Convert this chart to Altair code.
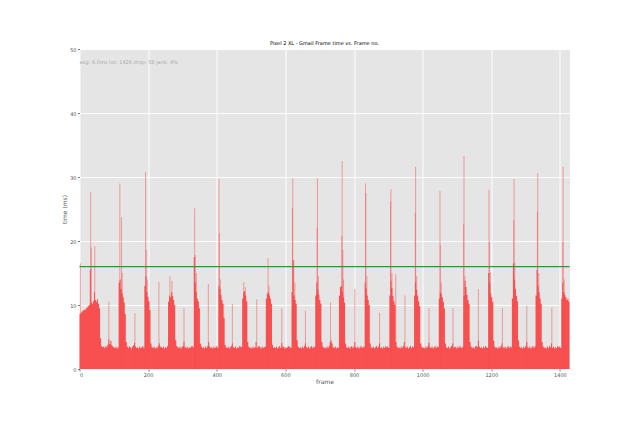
import altair as alt
import pandas as pd

FONT = "DejaVu Sans"
RED = "#F85050"
GREEN = "#3d8f3d"

TITLE = "Pixel 2 XL - Gmail Frame time vs. Frame no."
NOTE = ["avg: 6.0ms tot: 1426 drop: 58 jank: 4%"]
NOTE_FRAME = [0]
NOTE_MS = [48]

BIN = 3  # frames per body value
FRAME_MAX = 1428

# frame time (ms) of the dense body, one value per 3 frames
body_ms = [
    8.6, 8.8, 9.0, 9.1, 9.3, 9.2, 9.5, 9.6, 9.8, 10.0,
    15.5, 10.4, 10.2, 10.6, 12.0, 10.8, 10.5, 10.9, 10.2, 9.5,
    4.8, 3.6, 3.4, 3.5, 3.3, 3.6, 3.4, 3.8, 4.6, 3.9,
    4.4, 3.7, 3.5, 3.4, 3.3, 3.5, 3.2, 3.4, 13.5, 14.0,
    12.5, 11.8, 11.2, 10.4, 8.6, 4.2, 3.5, 3.3, 3.6, 3.4,
    3.2, 3.5, 3.7, 4.1, 3.5, 3.3, 3.4, 3.2, 3.5, 3.3,
    3.4, 3.6, 3.3, 13.0, 14.5, 12.0, 11.3, 10.6, 9.2, 4.0,
    3.4, 3.3, 3.5, 3.2, 3.4, 3.3, 3.6, 4.0, 3.5, 3.4,
    3.3, 3.5, 3.2, 3.4, 3.3, 3.6, 10.5, 11.5, 11.2, 12.0,
    11.4, 10.8, 10.0, 4.5, 3.6, 3.4, 3.3, 3.5, 3.2, 3.4,
    3.6, 4.3, 3.4, 3.3, 3.5, 3.2, 3.4, 3.3, 3.5, 3.6,
    3.4, 17.5, 13.5, 12.0, 11.0, 10.6, 9.5, 4.0, 3.5, 3.3,
    3.4, 3.2, 3.5, 3.3, 3.6, 4.2, 3.5, 3.3, 3.4, 3.2,
    3.5, 3.3, 3.4, 3.6, 3.3, 13.0, 12.5, 11.6, 10.8, 10.2,
    8.0, 3.8, 3.4, 3.3, 3.5, 3.2, 3.4, 3.6, 4.0, 3.4,
    3.3, 3.5, 3.2, 3.4, 3.3, 3.6, 3.5, 3.4, 11.0, 12.0,
    12.2, 11.5, 10.6, 4.2, 3.5, 3.3, 3.4, 3.2, 3.5, 3.3,
    3.4, 4.2, 3.3, 3.5, 3.6, 3.4, 3.2, 3.5, 3.3, 3.4,
    3.5, 11.0, 11.8, 12.0, 11.5, 11.0, 10.2, 3.8, 3.3, 3.4,
    3.3, 3.5, 3.2, 3.4, 3.6, 3.3, 4.1, 3.4, 3.5, 3.2,
    3.4, 3.3, 3.5, 3.6, 3.4, 3.3, 12.0, 17.0, 11.5, 10.8,
    10.2, 4.5, 3.5, 3.3, 3.4, 3.2, 3.5, 3.3, 3.6, 4.0,
    3.4, 3.3, 3.5, 3.2, 3.4, 3.6, 3.3, 3.5, 3.4, 11.5,
    13.5, 12.4, 11.6, 10.8, 10.2, 4.2, 3.5, 3.3, 3.4, 3.2,
    3.5, 3.3, 3.6, 4.2, 4.5, 4.0, 3.4, 3.3, 3.5, 3.2,
    3.4, 3.3, 11.5, 12.8, 13.0, 12.0, 11.2, 10.4, 4.0, 3.4,
    3.3, 3.5, 3.2, 3.4, 3.6, 3.3, 3.5, 4.2, 3.4, 3.3,
    3.5, 3.2, 3.4, 3.6, 3.3, 3.5, 3.4, 13.5, 12.6, 11.5,
    10.8, 10.0, 4.0, 3.4, 3.3, 3.5, 3.2, 3.4, 3.6, 3.3,
    3.5, 4.0, 3.3, 3.4, 3.2, 3.5, 3.3, 3.6, 3.4, 3.5,
    3.3, 11.5, 13.8, 12.6, 11.4, 10.6, 10.0, 4.2, 3.5, 3.3,
    3.4, 3.2, 3.5, 3.3, 3.6, 4.2, 3.4, 3.3, 3.5, 3.2,
    3.4, 3.6, 3.3, 3.5, 3.4, 11.5, 13.5, 12.4, 11.5, 10.6,
    9.8, 4.0, 3.5, 3.3, 3.4, 3.2, 3.5, 3.3, 3.6, 4.1,
    3.4, 3.3, 3.5, 3.2, 3.4, 3.6, 3.3, 3.5, 3.4, 11.0,
    12.0, 11.7, 11.2, 10.5, 9.5, 4.0, 3.4, 3.3, 3.5, 3.2,
    3.4, 3.6, 4.0, 3.3, 3.5, 3.4, 3.2, 3.5, 3.3, 3.6,
    3.4, 3.3, 3.5, 11.5, 13.8, 12.8, 11.6, 10.8, 10.2, 4.2,
    3.5, 3.3, 3.4, 3.2, 3.5, 3.6, 3.4, 4.4, 3.5, 3.3,
    3.4, 3.2, 3.5, 3.3, 3.6, 3.4, 3.3, 15.0, 13.5, 11.8,
    11.2, 10.5, 4.4, 3.5, 3.3, 3.4, 3.2, 3.5, 3.3, 3.6,
    4.0, 3.4, 3.3, 3.5, 3.2, 3.4, 3.6, 3.3, 3.5, 3.4,
    11.0, 16.5, 14.0, 12.5, 11.4, 10.6, 4.5, 3.5, 3.3, 3.4,
    3.2, 3.5, 3.3, 3.6, 4.2, 3.4, 3.3, 3.5, 3.2, 3.4,
    3.6, 3.3, 3.5, 11.5, 15.5, 13.0, 12.0, 11.0, 10.2, 4.2,
    3.5, 3.3, 3.4, 3.2, 3.5, 3.3, 3.6, 3.4, 4.0, 3.3,
    3.5, 3.2, 3.4, 3.3, 3.6, 3.4, 3.5, 3.3, 11.0, 13.5,
    12.0, 11.6, 11.2, 10.8, 11.0, 10.5,
]

# single slow frames (thin tall spikes)
spike_frame = [
    1, 31, 33, 43, 84,
    116, 121, 123, 160,
    191, 193, 196, 230,
    262, 268, 303,
    334, 336, 339, 374,
    405, 406, 409, 444,
    477, 482, 515,
    548, 551, 588,
    619, 620, 623, 626, 657,
    691, 692, 695, 730,
    763, 764, 766, 768, 801,
    832, 833, 836, 873,
    905, 906, 909, 920, 947,
    977, 978, 981, 1017,
    1049, 1050, 1053, 1087,
    1118, 1119, 1122, 1161,
    1192, 1193, 1196, 1231,
    1264, 1265, 1267, 1302,
    1333, 1334, 1337, 1375,
    1407, 1408, 1411,
]
spike_ms = [
    16.5, 27.7, 19.0, 19.2, 10.5,
    29.0, 23.7, 15.0, 8.7,
    30.8, 18.6, 14.0, 13.6,
    14.5, 13.8, 9.5,
    25.1, 17.8, 15.0, 13.3,
    29.7, 21.2, 14.0, 10.2,
    13.6, 12.8, 10.9,
    17.3, 13.0, 9.5,
    25.1, 29.8, 17.0, 13.5, 9.1,
    22.0, 29.8, 14.5, 10.4,
    20.8, 32.5, 18.6, 14.0, 12.5,
    29.0, 27.5, 14.5, 8.8,
    26.2, 28.1, 15.0, 14.8, 11.5,
    24.4, 31.6, 14.5, 9.5,
    27.8, 19.4, 13.5, 9.5,
    22.6, 33.3, 14.5, 12.5,
    28.0, 19.8, 15.1, 9.5,
    23.3, 29.7, 16.6, 9.9,
    24.6, 30.6, 15.0, 9.6,
    19.9, 31.6, 14.0,
]

threshold_ms = [16]
x_ticks = [0, 200, 400, 600, 800, 1000, 1200, 1400]
y_ticks = [0, 10, 20, 30, 40, 50]

body_df = pd.DataFrame({
    "frame": [i * BIN for i in range(len(body_ms))] + [FRAME_MAX],
    "ms": body_ms + [body_ms[-1]],
})
spike_df = pd.DataFrame({
    "frame": spike_frame,
    "frame_end": [f + 3 for f in spike_frame],
    "ms": spike_ms,
    "zero": [0] * len(spike_frame),
})
thr_df = pd.DataFrame({"ms": threshold_ms})
note_df = pd.DataFrame({"frame": NOTE_FRAME, "ms": NOTE_MS, "text": NOTE})

xs = alt.Scale(domain=[0, FRAME_MAX], nice=False, zero=True)
ys = alt.Scale(domain=[0, 50], nice=False)

x_axis = alt.Axis(values=x_ticks, format="d", title="frame", titlePadding=1)
y_axis = alt.Axis(values=y_ticks, format="d", title="time (ms)", titlePadding=2)

body = alt.Chart(body_df).mark_area(interpolate="step-after", color=RED).encode(
    x=alt.X("frame:Q", scale=xs, axis=x_axis),
    y=alt.Y("ms:Q", scale=ys, axis=y_axis),
)

spikes = alt.Chart(spike_df).mark_rect(color=RED, opacity=0.5).encode(
    x=alt.X("frame:Q", scale=xs),
    x2="frame_end:Q",
    y=alt.Y("ms:Q", scale=ys),
    y2="zero:Q",
)

rule = alt.Chart(thr_df).mark_rule(color=GREEN, strokeWidth=1.2).encode(
    y=alt.Y("ms:Q", scale=ys),
)

note = alt.Chart(note_df).mark_text(
    align="left", baseline="middle", font=FONT, fontSize=5, color="#aaaaaa"
).encode(
    x=alt.X("frame:Q", scale=xs),
    y=alt.Y("ms:Q", scale=ys),
    text="text:N",
)

chart = alt.layer(body, spikes, rule, note).properties(
    width=490,
    height=320,
    title=alt.TitleParams(TITLE, font=FONT, fontSize=5, fontWeight="normal",
                          color="black", anchor="middle", offset=1),
    autosize=alt.AutoSizeParams(type="none"),
    padding={"left": 71.5, "top": 41, "right": 55, "bottom": 45},
).configure_view(
    fill="#E5E5E5", stroke="transparent"
).configure_axis(
    grid=True, gridColor="white", gridWidth=0.9, domain=False,
    tickColor="#555555", tickSize=2, tickWidth=0.8,
    labelColor="#555555", labelFont=FONT, labelFontSize=5, labelPadding=1.5,
    titleColor="#555555", titleFont=FONT, titleFontSize=6, titleFontWeight="normal",
)

chart.save("out.html", embed_options={"renderer": "svg", "actions": False})
